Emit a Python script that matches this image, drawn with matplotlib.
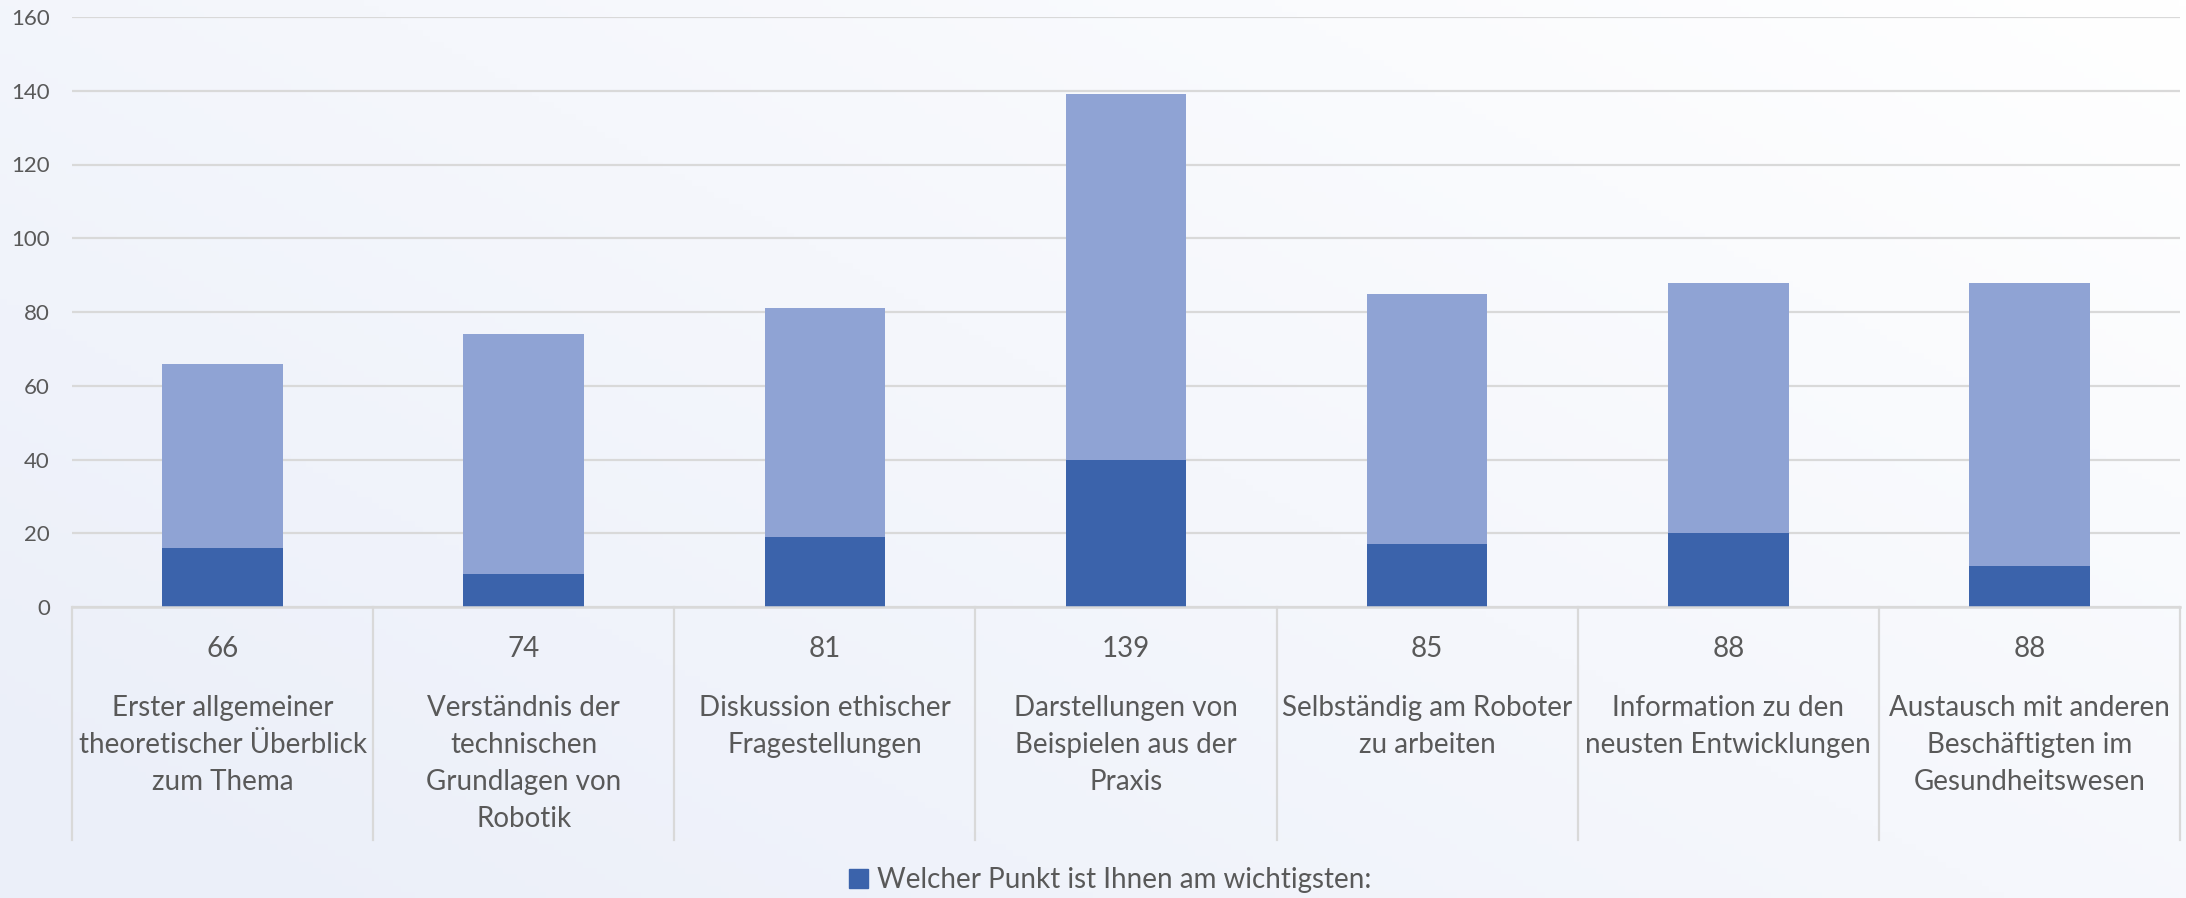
import numpy as np
import matplotlib
matplotlib.use('Agg')
import matplotlib.pyplot as plt
from matplotlib.patches import Patch

plt.rcParams['font.family'] = ['Lato', 'DejaVu Sans']

# data
categories = ['Erster allgemeiner\ntheoretischer Überblick\nzum Thema',
              'Verständnis der\ntechnischen\nGrundlagen von\nRobotik',
              'Diskussion ethischer\nFragestellungen',
              'Darstellungen von\nBeispielen aus der\nPraxis',
              'Selbständig am Roboter\nzu arbeiten',
              'Information zu den\nneusten Entwicklungen',
              'Austausch mit anderen\nBeschäftigten im\nGesundheitswesen']
totals = [66, 74, 81, 139, 85, 88, 88]
wichtigste = [16, 9, 19, 40, 17, 20, 11]
yticks = [0, 20, 40, 60, 80, 100, 120, 140, 160]
legend_label = 'Welcher Punkt ist Ihnen am wichtigsten:'

dark = '#3B63AB'
light = '#8FA3D4'
grid_c = '#D9D9D9'
txt_c = '#595959'

W, H = 2186, 898
fig = plt.figure(figsize=(W/100, H/100), dpi=100)

# background gradient
bg = fig.add_axes([0, 0, 1, 1], zorder=-10)
xx, yy = np.meshgrid(np.linspace(0, 1, 300), np.linspace(0, 1, 150))
s = np.clip(0.6*(1-xx) + 0.45*yy, 0, 1)
img = np.ones((150, 300, 3))
img[..., 0] -= s*20/255
img[..., 1] -= s*16/255
img[..., 2] -= s*6/255
bg.imshow(img, aspect='auto', extent=[0, 1, 0, 1], origin='upper')
bg.axis('off')

x0, x1 = 72, 2180
ytop, y0 = 17, 607
ax = fig.add_axes([x0/W, 1-y0/H, (x1-x0)/W, (y0-ytop)/H])
ax.set_facecolor('none')

x = np.arange(len(categories))
ax.bar(x, totals, width=0.4, color=light, zorder=2)
ax.bar(x, wichtigste, width=0.4, color=dark, zorder=3)

ax.set_xlim(-0.5, len(categories)-0.5)
ax.set_ylim(0, 160)
ax.set_yticks(yticks)
ax.set_yticklabels([str(t) for t in yticks], fontsize=16, color=txt_c)
ax.tick_params(axis='y', length=0, pad=16)
ax.set_xticks([])
ax.grid(axis='y', color=grid_c, lw=1.6, zorder=0)
for sp in ax.spines.values():
    sp.set_visible(False)

# data table below the axis
trans = ax.get_xaxis_transform()
axh = y0 - ytop
tb_bottom = -(840 - y0)/axh
ax.plot([-0.5, len(categories)-0.5], [0, 0], transform=trans, color=grid_c,
        lw=1.8, clip_on=False, zorder=4)
for b in np.arange(len(categories)+1) - 0.5:
    ax.plot([b, b], [0, tb_bottom], transform=trans, color=grid_c, lw=1.6,
            clip_on=False)
for i, (t, c) in enumerate(zip(totals, categories)):
    ax.text(i, -(649 - y0)/axh, str(t), transform=trans, ha='center',
            va='center', fontsize=20, color=txt_c)
    ax.text(i, -(695 - y0)/axh, c, transform=trans, ha='center', va='top',
            fontsize=20, color=txt_c, linespacing=1.52)

fig.legend(handles=[Patch(color=dark)], labels=[legend_label], loc='center',
           bbox_to_anchor=(1110/W, 1-880/H), frameon=False, fontsize=20,
           labelcolor=txt_c, handlelength=0.7, handleheight=0.7,
           handletextpad=0.3)

fig.savefig('out.png', dpi=100)
